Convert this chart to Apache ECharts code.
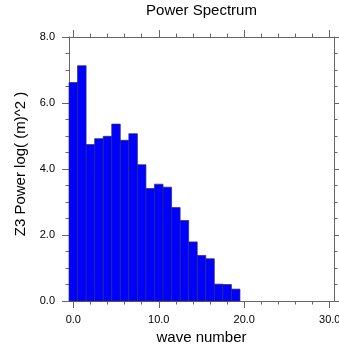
<!DOCTYPE html>
<html>
<head>
<meta charset="utf-8">
<script src="https://cdn.jsdelivr.net/npm/echarts@6/dist/echarts.min.js"></script>
<style>
  html, body { margin: 0; padding: 0; background: #fff; }
  #chart { width: 339px; height: 352px; }
</style>
</head>
<body>
<div id="chart"></div>
<script>
// wave numbers and their power values
const waveNumbers = [0, 1, 2, 3, 4, 5, 6, 7, 8, 9, 10, 11, 12, 13, 14, 15, 16, 17, 18, 19];
const powerValues = [6.62, 7.13, 4.74, 4.92, 4.99, 5.36, 4.87, 5.07, 4.13, 3.41,
                     3.54, 3.45, 2.83, 2.44, 1.79, 1.38, 1.28, 0.51, 0.50, 0.36];

// tick positions on the x axis
const xMajorTicks = [0, 10, 20, 30];
const xMinorTicks = [2, 4, 6, 8, 12, 14, 16, 18, 22, 24, 26, 28];

const FONT = "Liberation Sans";
const AXIS_COLOR = "#666";

const GRID = {left: 69, top: 37, right: 5, bottom: 51};

const chart = echarts.init(document.getElementById("chart"));

// x axis builder: same range, different tick sets (major / minor)
function xAxisDef(position, ticks, len, withLabels) {
	return {
		type: "value",
		position: position,
		min: -0.5,
		max: 30.5,
		axisLine: {show: true, onZero: false, lineStyle: {color: AXIS_COLOR, width: 1}},
		axisTick: {show: true, customValues: ticks, length: len, lineStyle: {color: AXIS_COLOR}},
		axisLabel: withLabels
			? {
				show: true,
				customValues: ticks,
				margin: 13,
				color: "#000",
				fontFamily: FONT,
				fontSize: 11,
				formatter: (v) => v.toFixed(1),
			}
			: {show: false},
		splitLine: {show: false},
	};
}

function yAxisDef(position, withLabels) {
	return {
		type: "value",
		position: position,
		min: 0,
		max: 8,
		interval: 2,
		axisLine: {show: true, onZero: false, lineStyle: {color: AXIS_COLOR, width: 1}},
		axisTick: {show: true, length: 7, lineStyle: {color: AXIS_COLOR}},
		minorTick: {show: true, splitNumber: 4, length: 3.5, lineStyle: {color: AXIS_COLOR}},
		axisLabel: withLabels
			? {
				show: true,
				margin: 14,
				color: "#000",
				fontFamily: FONT,
				fontSize: 11,
				formatter: (v) => v.toFixed(1),
			}
			: {show: false},
		splitLine: {show: false},
	};
}

const bottomMajor = xAxisDef("bottom", xMajorTicks, 7, true);
bottomMajor.name = "wave number";
bottomMajor.nameLocation = "middle";
bottomMajor.nameGap = 27;
bottomMajor.nameTextStyle = {fontFamily: FONT, fontSize: 15, color: "#000"};

const leftAxis = yAxisDef("left", true);
leftAxis.name = "Z3 Power log( (m)^2 )";
leftAxis.nameLocation = "middle";
leftAxis.nameGap = 40;
// a bit of padding on the "Z3" end nudges the label up like the original
leftAxis.nameTextStyle = {fontFamily: FONT, fontSize: 15, color: "#000", padding: [0, 0, 0, 10]};

// title centred over the plot area, not the whole canvas
const plotCenterX = GRID.left + (339 - GRID.left - GRID.right) / 2;

const option = {
	animation: false,
	backgroundColor: "#fff",
	graphic: [
		{
			type: "text",
			x: plotCenterX,
			y: 3,
			style: {
				text: "Power Spectrum",
				align: "center",
				verticalAlign: "top",
				fontFamily: FONT,
				fontSize: 15,
				fill: "#000",
			},
		},
	],
	// the "30.0" label runs off the canvas in the original, so keep the grid fixed
	grid: Object.assign({containLabel: false, outerBoundsMode: "none"}, GRID),
	xAxis: [
		bottomMajor,
		xAxisDef("bottom", xMinorTicks, 3.5, false),
		xAxisDef("top", xMajorTicks, 7, false),
		xAxisDef("top", xMinorTicks, 3.5, false),
	],
	yAxis: [leftAxis, yAxisDef("right", false)],
	series: [
		{
			type: "custom",
			xAxisIndex: 0,
			yAxisIndex: 0,
			data: waveNumbers.map((w, i) => [w, powerValues[i]]),
			renderItem: (params, api) => {
				const x = api.value(0);
				const y = api.value(1);
				const p0 = api.coord([x - 0.5, y]);
				const p1 = api.coord([x + 0.5, 0]);
				return {
					type: "rect",
					shape: {x: p0[0], y: p0[1], width: p1[0] - p0[0], height: p1[1] - p0[1]},
					style: {fill: "#0000ff", stroke: "#2a2a70", lineWidth: 0.7},
				};
			},
		},
	],
};

chart.setOption(option);
</script>
</body>
</html>
